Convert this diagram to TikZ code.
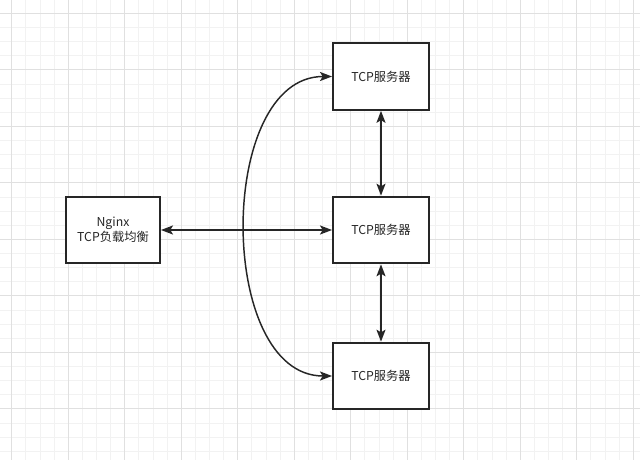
\documentclass[tikz,border=0pt]{standalone}
\usepackage{fontspec}
\setmainfont{Noto Sans CJK SC}
\usetikzlibrary{arrows.meta, positioning}
\definecolor{gridminor}{HTML}{F2F2F2}
\definecolor{gridmajor}{HTML}{E0E0E0}
\definecolor{ink}{HTML}{262626}
\tikzset{
  srvbox/.style={rectangle, draw=ink, line width=1.5pt, fill=white,
                 minimum width=72pt, minimum height=50pt, align=center,
                 font=\fontsize{9.2}{11.5}\selectfont, text=black!85},
  link/.style={{Stealth[length=9pt,width=6.8pt,inset=2pt]}-{Stealth[length=9pt,width=6.8pt,inset=2pt]},
               draw=ink, line width=1.1pt},
}

\begin{document}
\begin{tikzpicture}[
  x=0.75pt, y=-0.75pt,
  gminor/.style={draw=gridminor, line width=0.6pt},
  gmajor/.style={draw=gridmajor, line width=0.9pt},
]
  \useasboundingbox (0,0) rectangle (640,460);
  \fill[white] (0,0) rectangle (640,460);
  % background grid
  \foreach \i in {-1,...,45} \draw[gminor] ({11.7+\i*14.125},0) -- ++(0,460);
  \foreach \i in {-1,...,32} \draw[gminor] (0,{13.3+\i*14.125}) -- ++(640,0);
  \foreach \i in {0,...,11} \draw[gmajor] ({11.7+\i*56.5},0) -- ++(0,460);
  \foreach \i in {0,...,7} \draw[gmajor] (0,{13.3+\i*56.5}) -- ++(640,0);

  \node[srvbox, minimum width=70.5pt] (nginx) at (113,230) {Nginx\\TCP负载均衡};
  \node[srvbox] (srvtop) at (381,76.5) {TCP服务器};
  \node[srvbox] (srvmid) at (381,230) {TCP服务器};
  \node[srvbox] (srvbot) at (381,376) {TCP服务器};

  \draw[link] (nginx.east) -- (nginx.east -| srvmid.west);
  \draw[link] (srvtop) -- (srvmid);
  \draw[link] (srvmid) -- (srvbot);
  \draw[link] (srvtop.west) to[out=180, in=180, looseness=0.99] (srvbot.west);
\end{tikzpicture}
\end{document}
